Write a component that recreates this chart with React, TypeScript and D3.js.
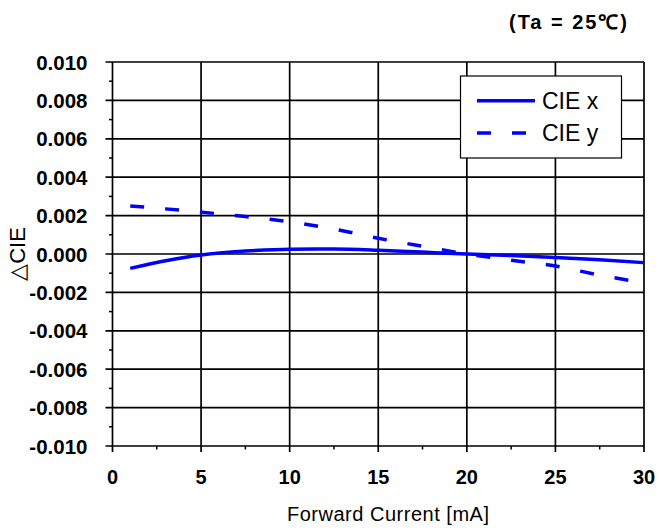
import React from "react";
import * as d3 from "d3";

const currents = [1, 3, 5, 7.5, 10, 12.5, 15, 17.5, 20, 22.5, 25, 27.5, 30];
const cieX = [-0.00075, -0.00035, -0.00005, 0.00015, 0.00025, 0.00026, 0.0002, 0.0001, 0.0, -0.00008, -0.00018, -0.0003, -0.00045];
const cieY = [0.0025, 0.00235, 0.00218, 0.00195, 0.00168, 0.0013, 0.00082, 0.0004, 0.0, -0.00032, -0.00063, -0.0011, -0.0015];
const xTicks = [0, 5, 10, 15, 20, 25, 30];
const xMinor = [2.5, 7.5, 12.5, 17.5, 22.5, 27.5];
const yTicks = [0.01, 0.008, 0.006, 0.004, 0.002, 0, -0.002, -0.004, -0.006, -0.008, -0.01];
const yMinor = [0.009, 0.007, 0.005, 0.003, 0.001, -0.001, -0.003, -0.005, -0.007, -0.009];
const seriesNames = ["CIE x", "CIE y"];

const W = 659, H = 530;
const L = 112.5, R = 644, T = 62, B = 446;

export default function App() {
  const x = d3.scaleLinear().domain([0, 30]).range([L, R]);
  const y = d3.scaleLinear().domain([-0.01, 0.01]).range([B, T]);
  const line = d3
    .line<[number, number]>()
    .x((d) => x(d[0]))
    .y((d) => y(d[1]))
    .curve(d3.curveMonotoneX);
  const dx = line(currents.map((c, i) => [c, cieX[i]] as [number, number])) || "";
  const dy = line(currents.map((c, i) => [c, cieY[i]] as [number, number])) || "";
  const font = "'Liberation Sans', Arial, sans-serif";
  const blue = "#0000ff";
  return (
    <svg width={W} height={H} style={{ position: "absolute", left: 0, top: 0, background: "#fff" }}>
      <rect x={0} y={0} width={W} height={H} fill="#fff" />
      {/* grid */}
      {xTicks.map((t) => (
        <line key={"gx" + t} x1={x(t)} x2={x(t)} y1={T} y2={B + 6} stroke="#000" strokeWidth={1.7} />
      ))}
      {xMinor.map((t) => (
        <line key={"mx" + t} x1={x(t)} x2={x(t)} y1={B} y2={B + 3.5} stroke="#000" strokeWidth={1.5} />
      ))}
      {yTicks.map((t) => (
        <line key={"gy" + t} x1={L - 7} x2={R} y1={y(t)} y2={y(t)} stroke="#000" strokeWidth={1.7} />
      ))}
      {yMinor.map((t) => (
        <line key={"my" + t} x1={L - 3.5} x2={L} y1={y(t)} y2={y(t)} stroke="#000" strokeWidth={1.5} />
      ))}
      {/* tick labels */}
      {yTicks.map((t) => (
        <text key={"ly" + t} x={87.5} y={y(t) + 7.5} textAnchor="end" fontFamily={font} fontWeight="bold" fontSize={20.5}>
          {d3.format(".3f")(t).replace("−", "-")}
        </text>
      ))}
      {xTicks.map((t) => (
        <text key={"lx" + t} x={x(t)} y={484} textAnchor="middle" fontFamily={font} fontWeight="bold" fontSize={20}>
          {t}
        </text>
      ))}
      {/* data */}
      <path d={dx} fill="none" stroke={blue} strokeWidth={3.5} />
      <path d={dy} fill="none" stroke={blue} strokeWidth={3.5} strokeDasharray="14,21" />
      {/* legend */}
      <rect x={460.5} y={76} width={161} height={82} fill="#fff" stroke="#000" strokeWidth={1.2} />
      <line x1={477} x2={535} y1={100.7} y2={100.7} stroke={blue} strokeWidth={3.5} />
      <line x1={477} x2={535} y1={133} y2={133} stroke={blue} strokeWidth={3.5} strokeDasharray="14,21" />
      <text x={542} y={109} fontFamily={font} fontSize={23}>{seriesNames[0]}</text>
      <text x={542} y={141} fontFamily={font} fontSize={23}>{seriesNames[1]}</text>
      {/* titles */}
      <text x={509} y={29} textLength={118} lengthAdjust="spacing" fontFamily={font} fontWeight="bold" fontSize={20}>
        (Ta = 25℃)
      </text>
      <text x={287} y={521} textLength={202} lengthAdjust="spacing" fontFamily={font} fontSize={20}>
        Forward Current [mA]
      </text>
      <text transform="translate(25,254) rotate(-90)" textAnchor="middle" fontFamily={font} fontSize={22}>
        △CIE
      </text>
    </svg>
  );
}
